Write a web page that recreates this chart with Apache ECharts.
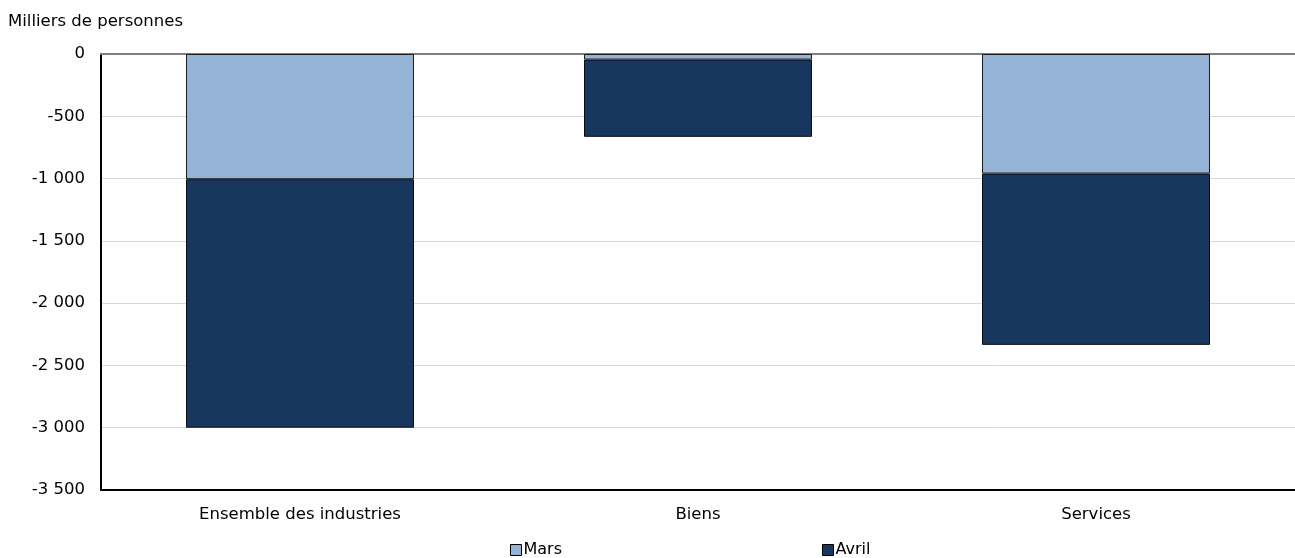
<!DOCTYPE html>
<html>
<head>
<meta charset="utf-8">
<style>
  html, body { margin: 0; padding: 0; background: #fff; }
  #main { width: 1295px; height: 558px; }
</style>
</head>
<body>
<div id="main"></div>
<script src="https://cdn.jsdelivr.net/npm/echarts@6/dist/echarts.min.js"></script>
<script>
// données (milliers de personnes)
var categories = ['Ensemble des industries', 'Biens', 'Services'];
var mars = [-1005, -45, -960];
var avril = [-1995, -620, -1375];
var yTicks = { min: -3500, max: 0, interval: 500 };

var font = 'Verdana, "DejaVu Sans", sans-serif';

function fmt(v) {
  var s = String(Math.abs(v)).replace(/\B(?=(\d{3})+(?!\d))/g, ' ');
  return (v < 0 ? '-' : '') + s;
}

var myChart = echarts.init(document.getElementById('main'));

var option = {
  animation: false,
  textStyle: { fontFamily: font },
  title: {
    text: 'Milliers de personnes',
    left: 3, top: 8,
    textStyle: { fontFamily: font, fontSize: 16.5, fontWeight: 'normal', color: '#000' }
  },
  legend: {
    data: ['Mars', 'Avril'],
    left: 510, top: 542, padding: 0,
    itemWidth: 11, itemHeight: 11, itemGap: 260,
    icon: 'rect',
    textStyle: { fontFamily: font, fontSize: 16, color: '#000', padding: [0, 0, 0, -3] },
    itemStyle: { borderColor: '#000', borderWidth: 1 }
  },
  grid: { left: 101, right: 0, top: 54, bottom: 68 },
  xAxis: [{
    type: 'category',
    data: categories,
    position: 'bottom',
    axisLine: { onZero: false, lineStyle: { color: '#000', width: 2 } },
    axisTick: { show: false },
    axisLabel: { fontFamily: font, fontSize: 16.5, color: '#000', margin: 16 }
  }, {
    type: 'category',
    data: categories,
    position: 'top',
    axisLine: { lineStyle: { color: '#808080', width: 2 } },
    axisTick: { show: false },
    axisLabel: { show: false }
  }],
  yAxis: {
    type: 'value',
    min: yTicks.min, max: yTicks.max, interval: yTicks.interval,
    axisLine: { show: true, lineStyle: { color: '#000', width: 2 } },
    axisTick: { show: false },
    splitLine: { lineStyle: { color: '#d9d9d9', width: 1 } },
    axisLabel: { fontFamily: font, fontSize: 16.5, color: '#000', margin: 16, formatter: fmt }
  },
  series: [{
    name: 'Mars',
    type: 'bar',
    stack: 'total',
    barWidth: 228,
    data: mars,
    itemStyle: { color: '#95b3d7', borderColor: '#1a1a1a', borderWidth: 1 }
  }, {
    name: 'Avril',
    type: 'bar',
    stack: 'total',
    barWidth: 228,
    data: avril,
    itemStyle: { color: '#17375e', borderColor: '#0d0d0d', borderWidth: 1 }
  }]
};

myChart.setOption(option);
</script>
</body>
</html>
